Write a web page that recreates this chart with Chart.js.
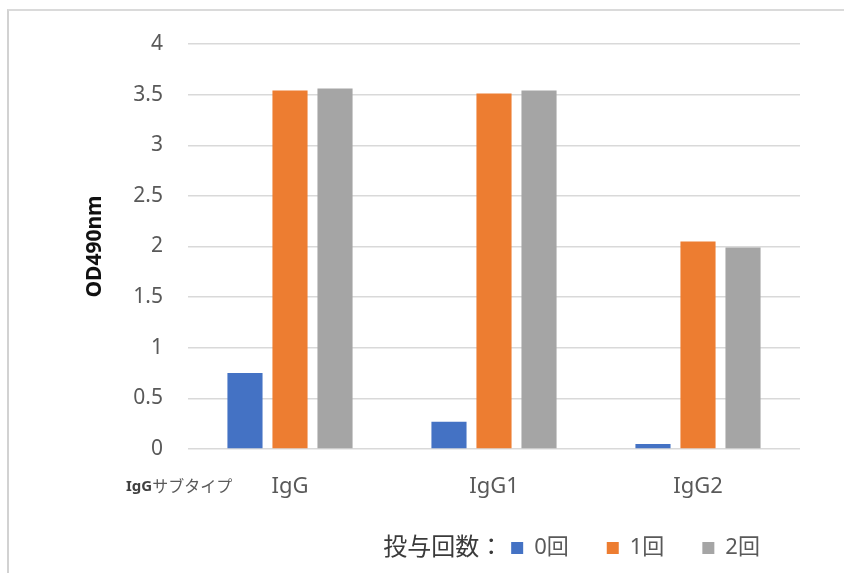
<!DOCTYPE html>
<html>
<head>
<meta charset="utf-8">
<script src="https://cdn.jsdelivr.net/npm/chart.js"></script>
<style>
  html, body { margin: 0; padding: 0; background: #fff; }
  #wrap { position: relative; width: 844px; height: 573px; overflow: hidden; }
  #cadre { position: absolute; left: 7px; top: 9px; right: -4px; bottom: -4px;
           border-left: 2px solid #d2d2d2; border-top: 2px solid #dadada; }
  #myChart { position: absolute; left: 0; top: 0; }
</style>
</head>
<body>
<div id="wrap">
  <div id="cadre"></div>
  <canvas id="myChart" width="844" height="573"></canvas>
</div>
<script>
    // données
    var categories = ['IgG', 'IgG1', 'IgG2'];
    var seriesNames = ['0回', '1回', '2回'];
    var dose0 = [0.75, 0.27, 0.05];
    var dose1 = [3.54, 3.51, 2.05];
    var dose2 = [3.56, 3.54, 1.99];
    var yTickValues = [0, 0.5, 1, 1.5, 2, 2.5, 3, 3.5, 4];
    var yTitle = 'OD490nm';
    var groupLabel = ['IgG', 'サブタイプ'];
    var legendPrefix = '投与回数：';

    var colors = ['#4472C4', '#ED7D31', '#A5A5A5'];
    var fontFam = "'Noto Sans', 'Noto Sans CJK JP', sans-serif";
    Chart.defaults.font.family = fontFam;

    var legendPad = 38;

    // textes hors du chart (préfixe de la légende + libellé du groupe)
    var extras = {
        id: 'extras',
        afterLayout: function(chart) {
            var lg = chart.legend;
            var ctx = chart.ctx;
            ctx.save();
            ctx.font = '24px ' + fontFam;
            var w = ctx.measureText(legendPrefix).width;
            ctx.restore();
            var startX = chart.width * 0.454 + w + 8;
            var width = lg.right - lg.left;
            lg.left = startX - legendPad;
            lg.right = lg.left + width;
        },
        afterDraw: function(chart) {
            var ctx = chart.ctx;
            var lg = chart.legend;
            ctx.save();
            ctx.textBaseline = 'middle';
            ctx.textAlign = 'left';
            ctx.fillStyle = '#3a3a3a';
            ctx.font = '24px ' + fontFam;
            ctx.fillText(legendPrefix, chart.width * 0.454, lg.top + legendPad + 11);

            var xs = chart.scales.x;
            var y = xs.top + 25 + 13;
            var x = chart.chartArea.left - 62;
            ctx.fillStyle = '#404040';
            ctx.font = 'bold 15px ' + fontFam;
            ctx.fillText(groupLabel[0], x, y);
            x += ctx.measureText(groupLabel[0]).width;
            ctx.fillStyle = '#595959';
            ctx.font = '16px ' + fontFam;
            ctx.fillText(groupLabel[1], x, y);
            ctx.restore();
        }
    };

    var datasets = [dose0, dose1, dose2].map(function(vals, i) {
        return {
            label: seriesNames[i],
            data: vals,
            backgroundColor: colors[i],
            borderWidth: 0,
            categoryPercentage: 0.662,
            barPercentage: 0.78
        };
    });

    var ctx = document.getElementById('myChart').getContext('2d');
    var myChart = new Chart(ctx, {
        type: 'bar',
        data: {
            labels: categories,
            datasets: datasets
        },
        options: {
            responsive: false,
            animation: false,
            layout: { padding: { left: 70, right: 44, top: 44, bottom: 4 } },
            plugins: {
                tooltip: { enabled: false },
                legend: {
                    position: 'bottom',
                    align: 'start',
                    labels: {
                        boxWidth: 12,
                        boxHeight: 12,
                        padding: legendPad,
                        color: '#595959',
                        font: { size: 22 }
                    }
                }
            },
            scales: {
                x: {
                    afterFit: function(scale) { scale.height = 50; },
                    grid: { display: false, drawTicks: false },
                    border: { display: false },
                    ticks: { padding: 25, color: '#595959', font: { size: 22 } }
                },
                y: {
                    min: 0,
                    max: 4,
                    afterBuildTicks: function(scale) {
                        scale.ticks = yTickValues.map(function(v) { return { value: v }; });
                    },
                    afterFit: function(scale) { scale.width = 118; },
                    border: { display: false },
                    grid: { color: '#d9d9d9', lineWidth: 1.5, drawTicks: false },
                    ticks: {
                        padding: 25,
                        color: '#595959',
                        font: { size: 21 },
                        callback: function(v) { return String(v); }
                    },
                    title: {
                        display: true,
                        text: yTitle,
                        color: '#111',
                        font: { size: 21, weight: 'bold' },
                        padding: { top: 12, bottom: 0 }
                    }
                }
            }
        },
        plugins: [extras]
    });
</script>
</body>
</html>
